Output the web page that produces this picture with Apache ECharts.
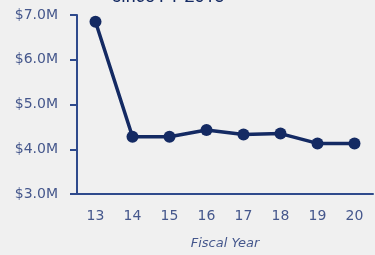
<!DOCTYPE html>
<html>
<head>
<meta charset="utf-8">
<script src="https://cdn.jsdelivr.net/npm/echarts@6/dist/echarts.min.js"></script>
<style>
  html, body { margin: 0; padding: 0; background: #f0f0f0; }
  #chart { width: 375px; height: 255px; }
</style>
</head>
<body>
<div id="chart"></div>
<script>
const years = ['13', '14', '15', '16', '17', '18', '19', '20']
const amounts = [6.85, 4.28, 4.28, 4.43, 4.33, 4.35, 4.13, 4.13]
const yTicks = [3, 4, 5, 6, 7]

const navy = '#142a63'
const axisBlue = '#2f4a8c'
const labelBlue = '#45578c'
const font = 'DejaVu Sans'

const chart = echarts.init(document.getElementById('chart'))
chart.setOption({
  backgroundColor: '#f0f0f0',
  animation: false,
  // title sits mostly above the visible area, only its lower edge shows
  graphic: [
    {
      type: 'text',
      x: 112,
      y: -12,
      style: {
        text: 'since FY 2013',
        fill: navy,
        font: '18px Roboto',
      },
    },
  ],
  grid: { left: 77, right: 2, top: 15, bottom: 61 },
  xAxis: {
    type: 'category',
    data: years,
    boundaryGap: true,
    name: 'Fiscal Year',
    nameLocation: 'middle',
    nameGap: 43,
    nameTextStyle: { color: labelBlue, fontSize: 13, fontStyle: 'italic', fontFamily: font },
    axisLine: { lineStyle: { color: axisBlue, width: 2 } },
    axisTick: { inside: true, length: 4, lineStyle: { color: axisBlue, width: 1.5 } },
    axisLabel: { color: labelBlue, fontSize: 14, margin: 15, fontFamily: font },
  },
  yAxis: {
    type: 'value',
    min: yTicks[0],
    max: yTicks[yTicks.length - 1],
    interval: 1,
    axisLine: { show: true, lineStyle: { color: axisBlue, width: 2 } },
    axisTick: { show: true, length: 7, lineStyle: { color: axisBlue, width: 2 } },
    splitLine: { show: false },
    axisLabel: {
      color: labelBlue,
      fontSize: 14,
      margin: 19,
      fontFamily: font,
      formatter: (v) => '$' + v.toFixed(1) + 'M',
    },
  },
  series: [
    {
      type: 'line',
      data: amounts,
      symbol: 'circle',
      symbolSize: 12,
      itemStyle: { color: navy },
      lineStyle: { color: navy, width: 3.5 },
    },
  ],
})
</script>
</body>
</html>
